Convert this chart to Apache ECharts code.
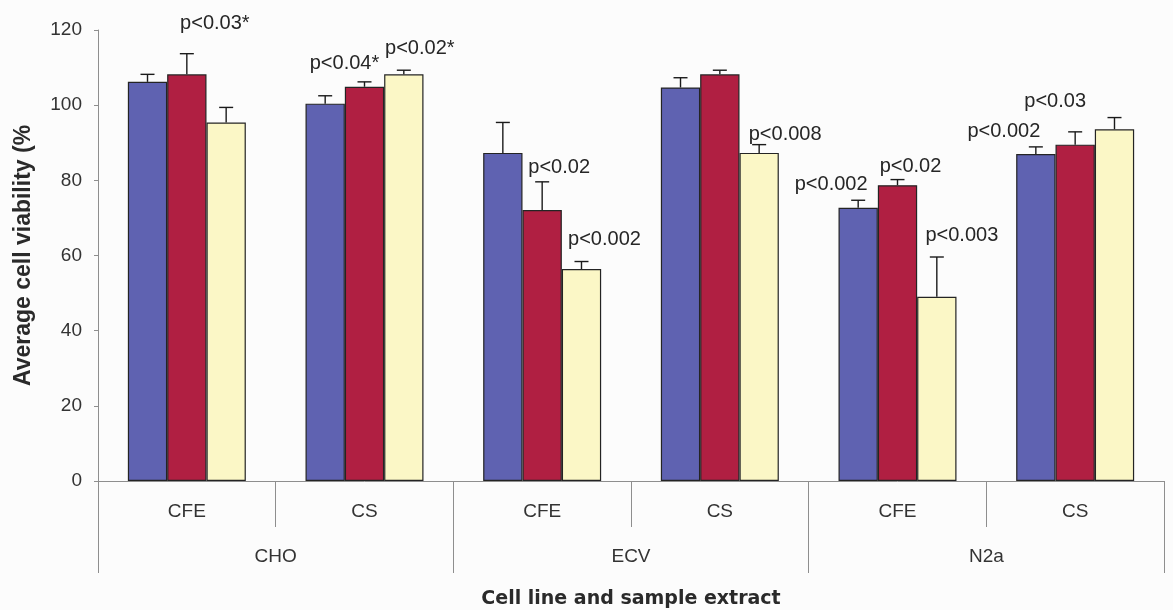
<!DOCTYPE html>
<html>
<head>
<meta charset="utf-8">
<script src="https://cdn.jsdelivr.net/npm/echarts@6/dist/echarts.min.js"></script>
<style>
  html, body { margin: 0; padding: 0; background: #fcfcfc; }
  #chart { width: 1173px; height: 610px; }
</style>
</head>
<body>
<div id="chart"></div>
<script>
// Sample extract per bar group, and the cell line each pair belongs to
const categories = ['CFE', 'CS', 'CFE', 'CS', 'CFE', 'CS'];
const cellLines = ['CHO', 'ECV', 'N2a'];
const seriesNames = ['Group A', 'Group B', 'Group C'];

// Average cell viability (%) and standard error for each series
const blueMean = [106.2, 100.4, 87.3, 104.7, 72.7, 87.0];
const blueSE = [2.0, 2.1, 8.1, 2.6, 2.0, 1.9];
const redMean = [108.2, 104.9, 72.1, 108.2, 78.7, 89.5];
const redSE = [5.5, 1.3, 7.5, 1.1, 1.5, 3.4];
const yellowMean = [95.4, 108.2, 56.4, 87.3, 49.0, 93.6];
const yellowSE = [4.0, 1.1, 2.0, 2.2, 10.6, 3.1];

// Significance annotations per bar
const bluePLabels = ['', '', '', '', 'p<0.002', 'p<0.002'];
const redPLabels = ['p<0.03*', 'p<0.04*', 'p<0.02', '', 'p<0.02', 'p<0.03'];
const yellowPLabels = ['', 'p<0.02*', 'p<0.002', 'p<0.008', 'p<0.003', ''];

// Annotation placement relative to the bar top (pixels)
const blueLabelShift = [null, null, null, null, [-27, -8], [-32, -8]];
const redLabelShift = [[28, -36], [-20, -8], [17, -28], null, [13, -4], [-20, -28]];
const yellowLabelShift = [null, [16, -11], [23, -15], [26, -3], [25, -46], null];

const CATEGORY_GAP = 0.336;
const FONT = '"Liberation Sans", Arial, sans-serif';
const AXIS_GRAY = '#8e8e8e';

function barData(means, texts, shifts) {
  return means.map(function (v, i) {
    if (!texts[i]) return v;
    return {
      value: v,
      label: {
        show: true,
        position: 'top',
        distance: 5,
        formatter: texts[i],
        offset: shifts[i],
        fontSize: 20,
        color: '#262626',
        fontFamily: FONT
      }
    };
  });
}

function barSeries(name, color, means, texts, shifts) {
  return {
    name: name,
    type: 'bar',
    barGap: 0,
    barCategoryGap: (CATEGORY_GAP * 100) + '%',
    itemStyle: { color: color, borderColor: '#242424', borderWidth: 1.2 },
    data: barData(means, texts, shifts),
    z: 2
  };
}

// Upward-only error bar with a short cap, positioned over its bar in the group
function errorSeries(slot, means, errs) {
  return {
    type: 'custom',
    xAxisIndex: 0,
    yAxisIndex: 0,
    z: 3,
    silent: true,
    encode: { x: 0, y: 1 },
    data: means.map(function (m, i) { return [i, m, errs[i]]; }),
    renderItem: function (params, api) {
      const idx = api.value(0);
      const m = api.value(1);
      const e = api.value(2);
      const base = api.coord([idx, m]);
      const top = api.coord([idx, m + e]);
      const band = api.size([1, 0])[0];
      const barW = band * (1 - CATEGORY_GAP) / 3;
      const cx = base[0] + (slot - 1) * barW;
      const half = 7;
      const style = { stroke: '#1a1a1a', lineWidth: 1.4, fill: null };
      return {
        type: 'group',
        children: [
          { type: 'line', shape: { x1: cx, y1: base[1], x2: cx, y2: top[1] }, style: style },
          { type: 'line', shape: { x1: cx - half, y1: top[1], x2: cx + half, y2: top[1] }, style: style }
        ]
      };
    }
  };
}

const chart = echarts.init(document.getElementById('chart'));

chart.setOption({
  backgroundColor: '#fcfcfc',
  animation: false,
  grid: { left: 98, right: 9, top: 30, bottom: 129, containLabel: false, outerBoundsMode: 'none' },
  xAxis: [
    {
      type: 'category',
      data: categories,
      position: 'bottom',
      axisLine: { show: true, lineStyle: { color: AXIS_GRAY, width: 1 } },
      axisTick: { show: true, interval: 0, length: 46, lineStyle: { color: AXIS_GRAY } },
      axisLabel: { interval: 0, margin: 21, fontSize: 19, color: '#333', fontFamily: FONT },
      splitLine: { show: false }
    },
    {
      type: 'category',
      data: cellLines,
      position: 'bottom',
      axisLine: { show: false },
      axisTick: { show: true, interval: 0, length: 92, lineStyle: { color: AXIS_GRAY } },
      axisLabel: { interval: 0, margin: 66, fontSize: 19, color: '#333', fontFamily: FONT },
      splitLine: { show: false },
      name: 'Cell line and sample extract',
      nameLocation: 'middle',
      nameGap: 109,
      nameTextStyle: { fontSize: 19, fontWeight: 'bold', color: '#2a2a2a', fontFamily: '"DejaVu Sans", sans-serif' }
    }
  ],
  yAxis: {
    type: 'value',
    min: 0,
    max: 120,
    interval: 20,
    axisLine: { show: true, lineStyle: { color: AXIS_GRAY, width: 1 } },
    axisTick: { show: true, length: 4, lineStyle: { color: AXIS_GRAY } },
    axisLabel: { margin: 16, fontSize: 19, color: '#333', fontFamily: FONT },
    splitLine: { show: false },
    name: 'Average cell viability (%',
    nameLocation: 'middle',
    nameRotate: 90,
    nameGap: 63,
    nameTextStyle: { fontSize: 23, fontWeight: 'bold', color: '#2a2a2a', fontFamily: FONT }
  },
  series: [
    barSeries(seriesNames[0], '#5f62b1', blueMean, bluePLabels, blueLabelShift),
    barSeries(seriesNames[1], '#b01f42', redMean, redPLabels, redLabelShift),
    barSeries(seriesNames[2], '#fbf7c6', yellowMean, yellowPLabels, yellowLabelShift),
    errorSeries(0, blueMean, blueSE),
    errorSeries(1, redMean, redSE),
    errorSeries(2, yellowMean, yellowSE)
  ]
});
</script>
</body>
</html>
